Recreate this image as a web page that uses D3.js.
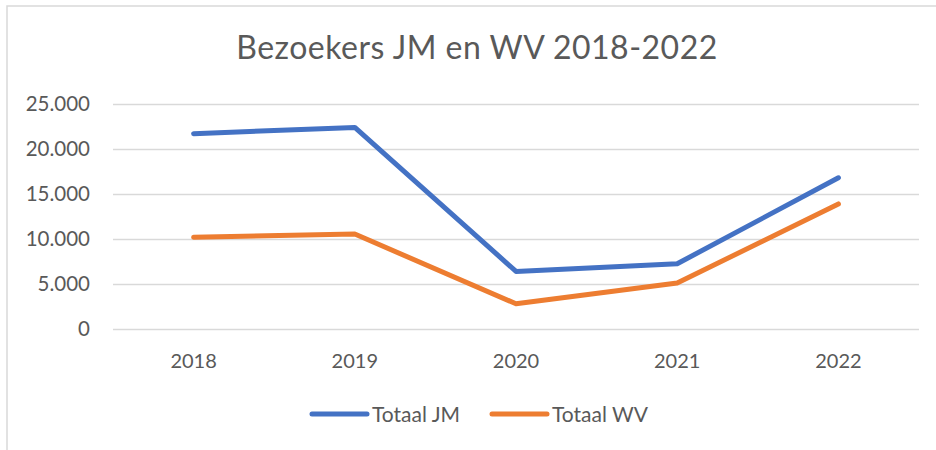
<!DOCTYPE html>
<html>
<head>
<meta charset="UTF-8">
<title>Bezoekers JM en WV</title>
<script src="https://cdnjs.cloudflare.com/ajax/libs/d3/7.8.5/d3.min.js"></script>
<style>
  body { margin: 0; background: #fff; }
  text { font-family: Lato, "Open Sans", sans-serif; fill: #595959; }
</style>
</head>
<body>
<div id="chart"></div>
<script>
// data
var years = ["2018", "2019", "2020", "2021", "2022"];
var totaalJM = [21700, 22400, 6400, 7250, 16800];
var totaalWV = [10200, 10550, 2800, 5100, 13900];
var yTicks = [0, 5000, 10000, 15000, 20000, 25000];
var seriesNames = ["Totaal JM", "Totaal WV"];
var seriesColors = ["#4472C4", "#ED7D31"];

var width = 936, height = 450;
var plot = { left: 113, right: 919, top: 104, bottom: 329 };

var svg = d3.select("#chart").append("svg")
  .attr("width", width)
  .attr("height", height);

// chart frame (only left and top are inside the picture)
svg.append("rect")
  .attr("x", 7).attr("y", 6)
  .attr("width", 960).attr("height", 480)
  .attr("fill", "none")
  .attr("stroke", "#d9d9d9")
  .attr("stroke-width", 1.5);

var x = d3.scaleBand()
  .domain(years)
  .range([plot.left, plot.right]);

var y = d3.scaleLinear()
  .domain([0, 25000])
  .range([plot.bottom, plot.top]);

var fmt = function (d) {
  return d3.format(",")(d).replace(/,/g, ".");
};

// y axis: gridlines + labels
var yAxis = d3.axisLeft(y)
  .tickValues(yTicks)
  .tickSize(-(plot.right - plot.left))
  .tickPadding(23)
  .tickFormat(fmt);

var gy = svg.append("g")
  .attr("transform", "translate(" + plot.left + ",0)")
  .call(yAxis);
gy.select(".domain").remove();
gy.selectAll(".tick line").attr("stroke", "#d9d9d9").attr("stroke-width", 1.5);
gy.selectAll(".tick text")
  .attr("font-size", 20.5)
  .attr("font-family", "Lato")
  .attr("fill", "#595959");

// x axis labels
var xAxis = d3.axisBottom(x).tickSize(0).tickPadding(25);
var gx = svg.append("g")
  .attr("transform", "translate(0," + plot.bottom + ")")
  .call(xAxis);
gx.select(".domain").remove();
gx.selectAll(".tick text")
  .attr("font-size", 20)
  .attr("font-family", "Lato")
  .attr("fill", "#595959");

// lines
var line = d3.line()
  .x(function (d, i) { return x(years[i]) + x.bandwidth() / 2; })
  .y(function (d) { return y(d); });

[totaalJM, totaalWV].forEach(function (vals, k) {
  svg.append("path")
    .datum(vals)
    .attr("d", line)
    .attr("fill", "none")
    .attr("stroke", seriesColors[k])
    .attr("stroke-width", 5)
    .attr("stroke-linecap", "round")
    .attr("stroke-linejoin", "round");
});

// title
svg.append("text")
  .attr("x", 477)
  .attr("y", 59)
  .attr("text-anchor", "middle")
  .attr("font-size", 32)
  .attr("letter-spacing", 0.5)
  .text("Bezoekers JM en WV 2018-2022");

// legend
var legendX = [312, 492];
var leg = svg.selectAll(".legend")
  .data(seriesNames)
  .enter().append("g")
  .attr("class", "legend")
  .attr("transform", function (d, i) { return "translate(" + legendX[i] + ",414)"; });

leg.append("line")
  .attr("x1", 0).attr("x2", 55)
  .attr("stroke", function (d, i) { return seriesColors[i]; })
  .attr("stroke-width", 5)
  .attr("stroke-linecap", "round");

leg.append("text")
  .attr("x", 60)
  .attr("y", 7.5)
  .attr("font-size", 21)
  .text(function (d) { return d; });
</script>
</body>
</html>
